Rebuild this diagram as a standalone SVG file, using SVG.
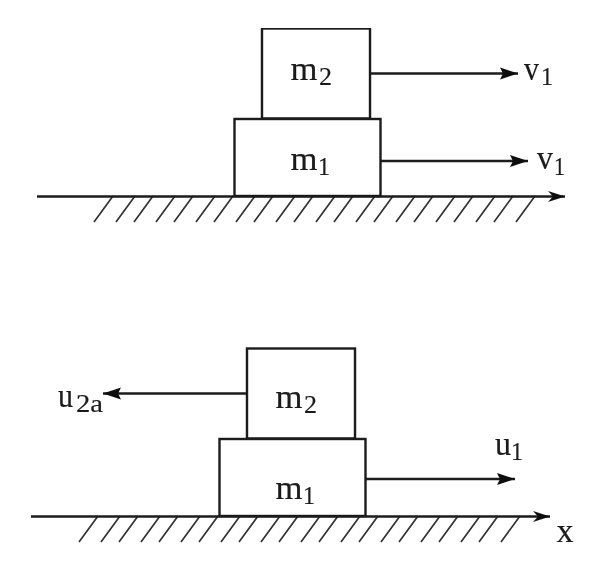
<svg xmlns="http://www.w3.org/2000/svg" width="608" height="573" viewBox="0 0 608 573">
<style>
.b{fill:#fff;stroke:#1a1a1a;stroke-width:2.4}
.c{fill:none;stroke:#1a1a1a;stroke-width:2.4}
.h{fill:none;stroke:#333;stroke-width:1.7}
text{font-family:"Liberation Serif","Times New Roman",serif;font-size:33px;fill:#1a1a1a;stroke:#1a1a1a;stroke-width:.2}
.s{font-size:26px}
</style>
<defs>
<marker id="a" markerUnits="userSpaceOnUse" markerWidth="20" markerHeight="14" refX="18" refY="7" orient="auto"><path d="M0 1L18 7L0 13L3 7Z" fill="#111"/></marker>
<marker id="g" markerUnits="userSpaceOnUse" markerWidth="20" markerHeight="14" refX="18" refY="7" orient="auto"><path d="M1 1.500L18 7L1 12.500L6 7Z" fill="#111"/></marker>
<filter id="f" x="0" y="0" width="100%" height="100%"><feGaussianBlur stdDeviation="0.45"/></filter>
</defs>
<rect width="608" height="573" fill="#fff"/>
<g filter="url(#f)">
<g id="hatch">
<path class="h" d="M113 196L94 222M135 196L116 222M153 196L134 222M175 196L156 222M193 196L174 222M215 196L196 222M233 196L214 222M255 196L236 222M273 196L254 222M295 196L276 222M313 196L294 222M335 196L316 222M353 196L334 222M375 196L356 222M393 196L374 222M415 196L396 222M433 196L414 222M455 196L436 222M473 196L454 222M495 196L476 222M513 196L494 222M535 196L516 222"/>
<path class="h" d="M98 516L79 542M120 516L101 542M138 516L119 542M160 516L141 542M178 516L159 542M200 516L181 542M218 516L199 542M240 516L221 542M258 516L239 542M280 516L261 542M298 516L279 542M320 516L301 542M338 516L319 542M360 516L341 542M378 516L359 542M400 516L381 542M418 516L399 542M440 516L421 542M458 516L439 542M480 516L461 542M498 516L479 542M520 516L501 542"/>
</g>
<g id="top-m2"><rect class="b" x="262" y="28.500" width="108" height="90"/><text x="290.500" y="80" textLength="27" lengthAdjust="spacingAndGlyphs">m</text><text class="s" x="319" y="85" textLength="13" lengthAdjust="spacingAndGlyphs">2</text></g>
<g id="top-m1"><rect class="b" x="234.500" y="119" width="146" height="77"/><text x="290.500" y="170" textLength="27" lengthAdjust="spacingAndGlyphs">m</text><text class="s" x="318" y="175" textLength="12" lengthAdjust="spacingAndGlyphs">1</text></g>
<g id="bottom-m2"><rect class="b" x="247" y="348.500" width="108" height="90"/><text x="275.500" y="408" textLength="27" lengthAdjust="spacingAndGlyphs">m</text><text class="s" x="304" y="413" textLength="13" lengthAdjust="spacingAndGlyphs">2</text></g>
<g id="bottom-m1"><rect class="b" x="219.500" y="439" width="146" height="77"/><text x="275.500" y="499" textLength="27" lengthAdjust="spacingAndGlyphs">m</text><text class="s" x="303" y="504" textLength="12" lengthAdjust="spacingAndGlyphs">1</text></g>
<g id="connectors">
<path class="c" d="M37 196.500H565" marker-end="url(#g)"/>
<path class="c" d="M31 516.500H550" marker-end="url(#g)"/>
<path class="c" d="M370 73.500H518" marker-end="url(#a)"/>
<path class="c" d="M380 161H528" marker-end="url(#a)"/>
<path class="c" d="M247 393.500H103" marker-end="url(#a)"/>
<path class="c" d="M365 479H515" marker-end="url(#a)"/>
</g>
<g id="labels">
<text x="524" y="80" textLength="15" lengthAdjust="spacingAndGlyphs">v</text><text class="s" x="541" y="85" textLength="12" lengthAdjust="spacingAndGlyphs">1</text>
<text x="537" y="169" textLength="16" lengthAdjust="spacingAndGlyphs">v</text><text class="s" x="554" y="175" textLength="11" lengthAdjust="spacingAndGlyphs">1</text>
<text x="58" y="407" textLength="15" lengthAdjust="spacingAndGlyphs">u</text><text class="s" x="76" y="412" textLength="27" lengthAdjust="spacingAndGlyphs">2a</text>
<text x="495" y="455" textLength="16" lengthAdjust="spacingAndGlyphs">u</text><text class="s" x="511" y="460" textLength="12" lengthAdjust="spacingAndGlyphs">1</text>
<text x="556.500" y="542" textLength="17" lengthAdjust="spacingAndGlyphs">x</text>
</g>
</g>
</svg>
